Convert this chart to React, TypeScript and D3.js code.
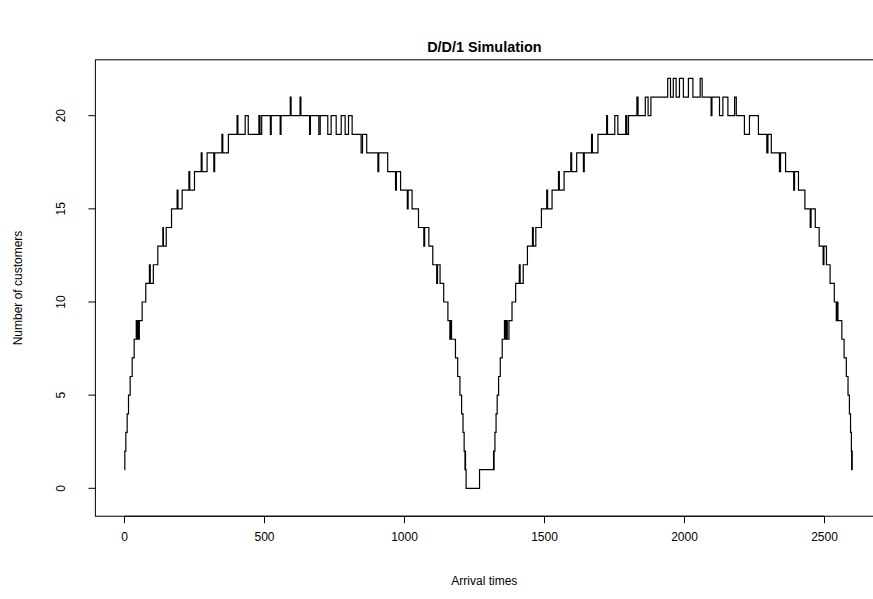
import * as d3 from 'd3';

// arrival times (x) and number of customers seen at that arrival (y), first hump
const hump1Times = [
  0, 1.2, 4.8, 9.5, 14.3, 20.2, 27.4, 34.5, 42, 44, 47, 50, 53, 63, 76, 89, 92, 103,
  119, 137, 139, 149, 168, 188, 191, 206, 230, 233, 250, 274, 277, 295, 319, 322, 348, 351, 371,
  402, 405, 431, 442, 480, 484, 490, 521, 524, 556, 559, 592, 595, 627, 630,
  661, 664, 694, 699, 726, 738, 756, 774, 788, 800, 813, 845, 850, 865, 905, 908, 940,
  968, 971, 986, 1010, 1013, 1027, 1050, 1069, 1072, 1087, 1101, 1115, 1118, 1127, 1140, 1155,
  1162, 1165, 1168, 1182, 1190, 1198, 1204, 1209, 1213, 1216, 1217, 1218, 1220, 1268, 1318, 1319,
];
const hump1Counts = [
  1, 2, 3, 4, 5, 6, 7, 8, 9, 8, 9, 8, 9, 10, 11, 12, 11, 12,
  13, 14, 13, 14, 15, 16, 15, 16, 17, 16, 17, 18, 17, 18, 17, 18, 19, 18, 19,
  20, 19, 20, 19, 20, 19, 20, 19, 20, 19, 20, 21, 20, 21, 20,
  19, 20, 19, 20, 19, 20, 19, 20, 19, 20, 19, 18, 19, 18, 17, 18, 17,
  16, 17, 16, 15, 16, 15, 14, 13, 14, 13, 12, 11, 12, 11, 10, 9,
  8, 9, 8, 7, 6, 5, 4, 3, 2, 1, 2, 1, 0, 1, 2, 1,
];

// second hump
const hump2Times = [
  1320, 1323, 1327, 1331, 1336, 1342, 1349, 1357, 1360, 1364, 1367, 1373, 1384, 1397,
  1410, 1413, 1424, 1439, 1457, 1460, 1469, 1489, 1508, 1511, 1527,
  1550, 1553, 1570, 1594, 1597, 1615, 1639, 1642, 1668, 1671, 1691,
  1722, 1725, 1751, 1762, 1790, 1794, 1800, 1830, 1834, 1860, 1870, 1880,
  1940, 1950, 1960, 1970, 1982, 1996, 2014, 2030, 2056, 2063,
  2095, 2098, 2125, 2137, 2155, 2179, 2185, 2214, 2232, 2264, 2294, 2298, 2310,
  2339, 2343, 2361, 2390, 2393, 2407, 2430, 2449, 2452, 2467, 2481, 2495, 2498, 2507,
  2520, 2535, 2542, 2545, 2548, 2562, 2570, 2578, 2584, 2589, 2593, 2596, 2597, 2598, 2599,
];
const hump2Counts = [
  2, 3, 4, 5, 6, 7, 8, 9, 8, 9, 8, 9, 10, 11,
  12, 11, 12, 13, 14, 13, 14, 15, 16, 15, 16,
  17, 16, 17, 18, 17, 18, 17, 18, 19, 18, 19,
  20, 19, 20, 19, 20, 19, 20, 21, 20, 21, 20, 21,
  22, 21, 22, 21, 22, 21, 22, 21, 22, 21,
  20, 21, 20, 21, 20, 21, 20, 19, 20, 19, 18, 19, 18,
  17, 18, 17, 16, 17, 16, 15, 14, 15, 14, 13, 12, 13, 12,
  11, 10, 9, 10, 9, 8, 7, 6, 5, 4, 3, 2, 1, 2, 1,
];

const xTicks = [0, 500, 1000, 1500, 2000, 2500];
const yTicks = [0, 5, 10, 15, 20];

const WIDTH = 873;
const HEIGHT = 599;
const FONT = 'Liberation Sans, Arial, Helvetica, sans-serif';

type Pt = { t: number; n: number };

export default function App() {
  const data: Pt[] = [
    ...hump1Times.map((t, i) => ({ t, n: hump1Counts[i] })),
    ...hump2Times.map((t, i) => ({ t, n: hump2Counts[i] })),
  ];

  // scales fitted to the reference tick positions
  const xScale = d3.scaleLinear().domain([0, 2500]).range([124.5, 824.5]);
  const yScale = d3.scaleLinear().domain([0, 20]).range([488.3, 115.7]);

  // plot box: R-style 4% padding on x, y limits as in the reference
  const [tMin, tMax] = d3.extent(data, (d) => d.t) as [number, number];
  const tPad = (tMax - tMin) * 0.04;
  const left = xScale(tMin - tPad);
  const right = xScale(tMax + tPad);
  const top = yScale(23);
  const bottom = yScale(-1.5);

  const line = d3
    .line<Pt>()
    .x((d) => xScale(d.t))
    .y((d) => yScale(d.n))
    .curve(d3.curveStepAfter);

  const tickLen = 7;

  return (
    <svg width={WIDTH} height={HEIGHT} style={{ display: 'block', position: 'absolute', left: 0, top: 0 }}>
      <rect width={WIDTH} height={HEIGHT} fill="#fff" />
      <text x={(left + right) / 2 - 4} y={52} textAnchor="middle" fontFamily={FONT} fontWeight="bold" fontSize={14.4}>
        D/D/1 Simulation
      </text>

      <path d={line(data) ?? ''} fill="none" stroke="#000" strokeWidth={1.2} />

      <rect x={left} y={top} width={right - left} height={bottom - top} fill="none" stroke="#000" strokeWidth={1} />

      {/* x axis */}
      <line x1={xScale(xTicks[0])} x2={xScale(xTicks[xTicks.length - 1])} y1={bottom} y2={bottom} stroke="#000" />
      {xTicks.map((t) => (
        <g key={t}>
          <line x1={xScale(t)} x2={xScale(t)} y1={bottom} y2={bottom + tickLen} stroke="#000" />
          <text x={xScale(t)} y={bottom + 25} textAnchor="middle" fontFamily={FONT} fontSize={12}>
            {t}
          </text>
        </g>
      ))}

      {/* y axis */}
      {yTicks.map((n) => (
        <g key={n}>
          <line x1={left} x2={left - tickLen} y1={yScale(n)} y2={yScale(n)} stroke="#000" />
          <text
            transform={`translate(${left - 30},${yScale(n)}) rotate(-90)`}
            textAnchor="middle"
            fontFamily={FONT}
            fontSize={12}
          >
            {n}
          </text>
        </g>
      ))}

      <text x={(left + right) / 2 - 4} y={585} textAnchor="middle" fontFamily={FONT} fontSize={12}>
        Arrival times
      </text>
      <text
        transform={`translate(22,${(top + bottom) / 2}) rotate(-90)`}
        textAnchor="middle"
        fontFamily={FONT}
        fontSize={12}
      >
        Number of customers
      </text>
    </svg>
  );
}
